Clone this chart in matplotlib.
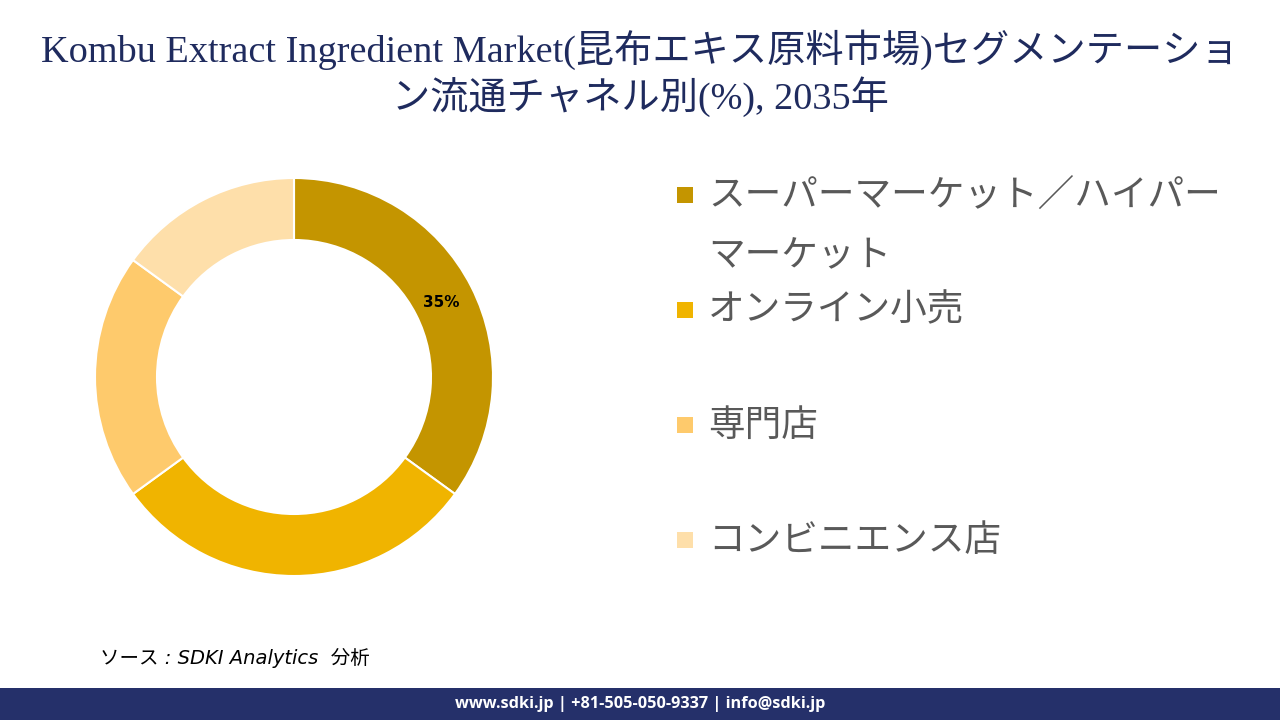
import matplotlib
matplotlib.use("Agg")
import matplotlib.pyplot as plt
from matplotlib.patches import Rectangle
import numpy as np

# ---- data ----
categories = ["スーパーマーケット／ハイパーマーケット", "オンライン小売", "専門店", "コンビニエンス店"]
legend_lines = [["スーパーマーケット／ハイパー", "マーケット"], ["オンライン小売"], ["専門店"], ["コンビニエンス店"]]
shares = [35, 30, 20, 15]
shown_labels = ["35%", "", "", ""]
colors = ["#C49500", "#F0B400", "#FECA6C", "#FEDFAA"]

title_line1 = "Kombu Extract Ingredient Market(昆布エキス原料市場)セグメンテーショ"
title_line2 = "ン流通チャネル別(%), 2035年"
source_text = "ソース : SDKI Analytics  分析"
footer_text = "www.sdki.jp | +81-505-050-9337 | info@sdki.jp"

W, H = 1280, 720
fig = plt.figure(figsize=(W / 100, H / 100), dpi=100)
fig.patch.set_facecolor("white")

def fx(x):
    return x / W

def fy(y):
    return 1 - y / H

# ---- donut ----
cx, cy, R, r_in = 294, 377, 199, 137
half = 200
ax = fig.add_axes([fx(cx - half), fy(cy + half), 2 * half / W, 2 * half / H])
wedges, _ = ax.pie(shares, colors=colors, startangle=90, counterclock=False,
                   radius=1.0, wedgeprops=dict(width=(R - r_in) / R, edgecolor="white", linewidth=1.5))
ax.set_xlim(-half / R, half / R)
ax.set_ylim(-half / R, half / R)
ax.set_aspect("equal")
ax.axis("off")
for w, lab in zip(wedges, shown_labels):
    if lab:
        ang = np.deg2rad((w.theta1 + w.theta2) / 2)
        rr = 0.83
        ax.text(rr * np.cos(ang), rr * np.sin(ang), lab, ha="center", va="center",
                fontsize=11, fontweight="bold", color="black", family=["DejaVu Sans"])

# ---- title ----
navy = "#1F2B5E"
tfam = ["Liberation Serif", "Noto Sans CJK JP"]
fig.text(0.5, fy(50), title_line1, ha="center", va="center", fontsize=27.5, color=navy, family=tfam)
fig.text(0.5, fy(97), title_line2, ha="center", va="center", fontsize=27.5, color=navy, family=tfam)

# ---- legend ----
lfam = ["Noto Sans CJK JP", "DejaVu Sans"]
rows_y = [[195, 256], [310], [425], [540]]
for col, lines, ys in zip(colors, legend_lines, rows_y):
    sq = 16
    fig.patches.append(Rectangle((fx(677), fy(ys[0] + sq / 2)), sq / W, sq / H,
                                 transform=fig.transFigure, facecolor=col, edgecolor="none"))
    for line, yy in zip(lines, ys):
        fig.text(fx(708), fy(yy), line, ha="left", va="center", fontsize=26.4,
                 color="#595959", family=lfam)

# ---- source ----
fig.text(fx(100), fy(658), source_text, ha="left", va="center", fontsize=14,
         style="italic", color="black", family=["DejaVu Sans", "Noto Sans CJK JP"])

# ---- footer ----
fig.patches.append(Rectangle((0, 0), 1, 32 / H, transform=fig.transFigure,
                             facecolor="#25306A", edgecolor="none"))
fig.text(0.5, fy(704), footer_text, ha="center", va="center", fontsize=11.7,
         fontweight="bold", color="white", family=["Open Sans", "DejaVu Sans"])

fig.savefig("out.png", dpi=100)
